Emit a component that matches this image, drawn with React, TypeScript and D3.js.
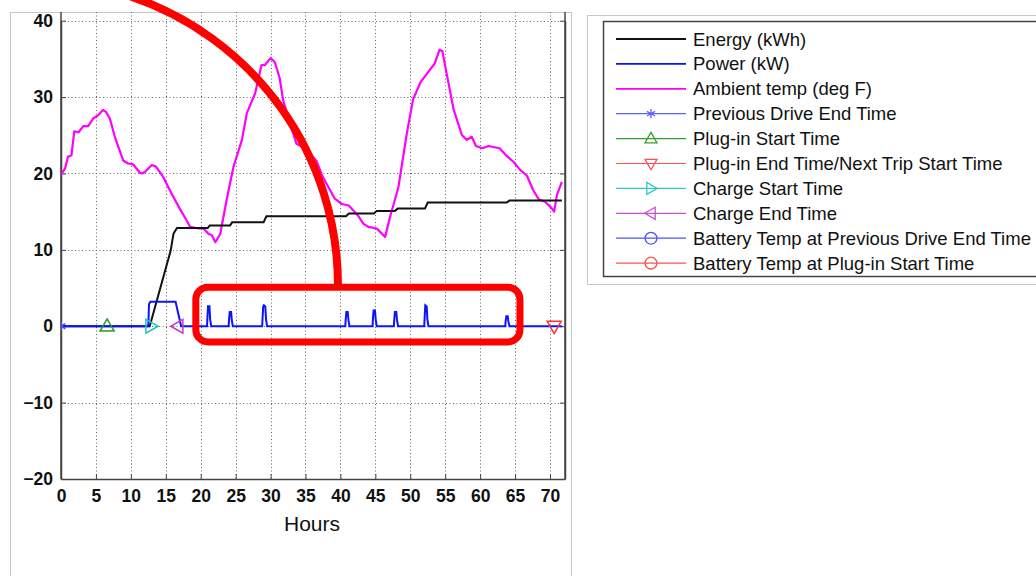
import React, { useEffect, useRef } from 'react';
import {
  axisBottom, axisLeft, axisRight, line, scaleLinear, select, symbol, symbolAsterisk, symbolCircle
} from 'd3';

// ambient temperature (deg F) vs hours
const ambientTemp: [number, number][] = [
  [0, 19.8], [0.6, 20.7], [1.0, 22.2], [1.5, 22.4], [1.9, 25.5], [2.5, 25.4], [3.2, 26.2], [3.9, 26.2],
  [4.6, 27.2], [5.3, 27.6], [6.0, 28.3], [6.4, 28.1], [7.0, 27.2], [7.7, 24.8], [8.9, 21.7], [9.6, 21.3],
  [10.3, 21.2], [11.3, 20.1], [11.6, 20.0], [12.0, 20.2], [13.0, 21.1], [13.6, 20.9], [14.6, 19.6],
  [15.8, 17.4], [17.0, 15.4], [17.7, 14.3], [18.5, 13.0], [19.7, 12.8], [20.4, 12.8], [21.1, 12.1],
  [21.6, 11.9], [22.1, 11.0], [22.8, 12.1], [23.7, 16.5], [24.7, 20.9], [25.9, 24.4], [26.6, 27.9],
  [27.8, 30.5], [28.7, 34.2], [29.2, 34.2], [30.0, 35.1], [30.6, 34.6], [31.3, 32.5], [31.8, 29.6],
  [32.8, 26.5], [33.7, 23.9], [35.0, 23.3], [36.6, 21.6], [37.3, 19.9], [38.0, 18.7], [39.2, 16.7],
  [40.2, 16.0], [41.2, 15.8], [42.5, 14.5], [43.3, 13.4], [44.0, 13.0], [45.2, 12.8], [46.4, 11.7],
  [47.1, 14.3], [48.3, 18.2], [49.5, 25.2], [50.4, 29.7], [51.5, 32.0], [52.5, 33.2], [53.5, 34.4],
  [54.2, 36.2], [54.6, 36.0], [55.2, 33.1], [56.2, 28.4], [57.4, 25.0], [58.1, 24.4], [58.8, 24.8],
  [59.4, 23.6], [60.3, 23.3], [61.2, 23.6], [62.8, 23.3], [63.8, 22.3], [64.8, 21.5], [65.7, 20.5],
  [66.7, 19.7], [67.6, 17.8], [68.4, 16.6], [69.3, 16.3], [70.2, 15.5], [70.6, 15.0], [71.0, 17.2],
  [71.7, 18.9]
];

// cumulative energy (kWh)
const energy: [number, number][] = [
  [0, 0], [12.7, 0], [15.7, 9.9], [16.1, 12.1], [16.6, 12.85], [21.0, 12.85], [21.3, 13.2], [24.2, 13.2],
  [24.5, 13.6], [29.0, 13.6], [29.4, 14.4], [40.8, 14.4], [41.2, 14.75], [44.8, 14.75], [45.2, 15.1],
  [47.8, 15.1], [48.2, 15.4], [52.1, 15.4], [52.5, 16.2], [63.8, 16.2], [64.2, 16.45], [71.7, 16.45]
];

// power (kW)
const power: [number, number][] = [
  [0, 0], [12.5, 0], [12.6, 2.9], [12.8, 3.2], [16.4, 3.2], [16.9, 1.2], [17.2, 0],
  [20.9, 0], [20.95, 0.9], [21.05, 2.6], [21.25, 2.6], [21.35, 0.9], [21.5, 0],
  [24.0, 0], [24.05, 0.8], [24.15, 1.85], [24.35, 1.85], [24.45, 0.8], [24.6, 0],
  [28.8, 0], [28.85, 1.0], [28.95, 2.6], [29.05, 2.75], [29.25, 2.6], [29.35, 0.9], [29.5, 0],
  [40.7, 0], [40.75, 0.8], [40.85, 1.85], [41.05, 1.85], [41.15, 0.8], [41.3, 0],
  [44.6, 0], [44.65, 0.9], [44.75, 2.05], [44.95, 2.05], [45.05, 0.9], [45.2, 0],
  [47.65, 0], [47.7, 0.8], [47.8, 1.85], [48.0, 1.85], [48.1, 0.8], [48.25, 0],
  [52.0, 0], [52.05, 1.0], [52.15, 2.75], [52.35, 2.6], [52.45, 0.9], [52.6, 0],
  [63.6, 0], [63.65, 0.6], [63.75, 1.3], [63.95, 1.3], [64.05, 0.6], [64.2, 0],
  [71.7, 0]
];

// event markers [hour, value]
const prevDriveEnd: [number, number] = [0, 0];
const plugInStart: [number, number] = [6.6, 0];
const plugInEnd: [number, number] = [70.6, 0];
const chargeStart: [number, number] = [12.85, 0];
const chargeEnd: [number, number] = [16.75, 0];

const xTicks = [0, 5, 10, 15, 20, 25, 30, 35, 40, 45, 50, 55, 60, 65, 70];
const yTicks = [-20, -10, 0, 10, 20, 30, 40];

const legendLabels = [
  'Energy (kWh)', 'Power (kW)', 'Ambient temp (deg F)', 'Previous Drive End Time', 'Plug-in Start Time',
  'Plug-in End Time/Next Trip Start Time', 'Charge Start Time', 'Charge End Time',
  'Battery Temp at Previous Drive End Time', 'Battery Temp at Plug-in Start Time'
];

// red callout drawn over the chart, ends in data units
const calloutArcStart: [number, number] = [9.9, 43.2];
const calloutArcEnd: [number, number] = [39.65, 5.3];
const calloutBox = { x0: 19.3, x1: 65.7, y0: -2.05, y1: 5.1 };

const FONT = 'Liberation Sans, Arial, sans-serif';

// triangle markers pointing in a direction
const tri = (dir: string, s: number) => {
  const h = s * 0.87;
  if (dir === 'up') return `M0,${-h * 0.6}L${s / 2},${h * 0.4}L${-s / 2},${h * 0.4}Z`;
  if (dir === 'down') return `M0,${h * 0.6}L${s / 2},${-h * 0.4}L${-s / 2},${-h * 0.4}Z`;
  if (dir === 'right') return `M${h * 0.6},0L${-h * 0.4},${s / 2}L${-h * 0.4},${-s / 2}Z`;
  return `M${-h * 0.6},0L${h * 0.4},${s / 2}L${h * 0.4},${-s / 2}Z`;
};

export default function App() {
  const svgRef = useRef<SVGSVGElement>(null);

  const margin = { left: 61, right: 565, top: 12, bottom: 479 };
  const x = scaleLinear().domain([0, 72.15]).range([margin.left, margin.right]);
  const y = scaleLinear().domain([-20, 40]).range([margin.bottom, 20.7]);

  useEffect(() => {
    const svg = select(svgRef.current);
    svg.selectAll('*').remove();

    // figure panel
    svg.append('rect').attr('x', 10.5).attr('y', 12.5).attr('width', 561).attr('height', 580)
      .attr('fill', '#fff').attr('stroke', '#c8c8c8');

    svg.append('defs').append('clipPath').attr('id', 'plotclip').append('rect')
      .attr('x', margin.left).attr('y', margin.top)
      .attr('width', margin.right - margin.left).attr('height', margin.bottom - margin.top);

    // grid
    const grid = svg.append('g').attr('stroke', '#666').attr('stroke-width', 1)
      .attr('stroke-dasharray', '1,2.5');
    grid.selectAll('.gx').data(xTicks.filter((d) => d > 0)).join('line')
      .attr('x1', (d) => Math.round(x(d)) + 0.5).attr('x2', (d) => Math.round(x(d)) + 0.5)
      .attr('y1', margin.top).attr('y2', margin.bottom);
    grid.selectAll('.gy').data(yTicks.filter((d) => d > -20)).join('line')
      .attr('y1', (d) => Math.round(y(d)) + 0.5).attr('y2', (d) => Math.round(y(d)) + 0.5)
      .attr('x1', margin.left).attr('x2', margin.right);

    // axes
    const ax = svg.append('g').attr('font-family', FONT).attr('font-weight', 'bold');
    ax.append('g').attr('transform', `translate(${margin.left},0)`)
      .call(axisLeft(y).tickValues(yTicks).tickSizeInner(-5).tickSizeOuter(0).tickPadding(8));
    ax.append('g').attr('transform', `translate(0,${margin.bottom})`)
      .call(axisBottom(x).tickValues(xTicks).tickSizeInner(-5).tickSizeOuter(0).tickPadding(11));
    ax.append('g').attr('transform', `translate(${margin.right},0)`)
      .call(axisRight(y).tickValues(yTicks).tickSizeInner(-5).tickSizeOuter(0).tickFormat(() => ''));
    ax.selectAll('.domain').attr('stroke', '#444').attr('stroke-width', 1.5);
    ax.selectAll('.tick line').attr('stroke', '#444');
    ax.selectAll('.tick text').attr('font-size', 17.5).attr('fill', '#111');
    // left and right axis lines span the clipped top too
    ax.append('line').attr('x1', margin.left).attr('x2', margin.left).attr('y1', margin.top).attr('y2', margin.bottom)
      .attr('stroke', '#444').attr('stroke-width', 1.5);
    ax.append('line').attr('x1', margin.right).attr('x2', margin.right).attr('y1', margin.top).attr('y2', margin.bottom)
      .attr('stroke', '#444').attr('stroke-width', 1.5);

    svg.append('text').attr('x', 312).attr('y', 531).attr('text-anchor', 'middle')
      .attr('font-family', FONT).attr('font-size', 21).attr('fill', '#111').text('Hours');

    // series
    const plot = svg.append('g').attr('clip-path', 'url(#plotclip)');
    const path = line<[number, number]>().x((d) => x(d[0])).y((d) => y(d[1]));
    plot.append('path').attr('d', path(ambientTemp)).attr('fill', 'none')
      .attr('stroke', '#ff00ff').attr('stroke-width', 2.2).attr('stroke-linejoin', 'round');
    plot.append('path').attr('d', path(energy)).attr('fill', 'none')
      .attr('stroke', '#111').attr('stroke-width', 2);
    plot.append('path').attr('d', path(power)).attr('fill', 'none')
      .attr('stroke', '#0a14ff').attr('stroke-width', 2);

    // event markers
    const marks = [
      { p: prevDriveEnd, d: symbol(symbolAsterisk, 70)(), c: '#4a4aff' },
      { p: plugInStart, d: tri('up', 14), c: '#2a9a2a' },
      { p: plugInEnd, d: tri('down', 14), c: '#ff3030' },
      { p: chargeStart, d: tri('right', 14), c: '#22c4c4' },
      { p: chargeEnd, d: tri('left', 14), c: '#c040c8' }
    ];
    plot.selectAll('.mk').data(marks).join('path')
      .attr('transform', (m) => `translate(${x(m.p[0])},${y(m.p[1])})`)
      .attr('d', (m) => m.d).attr('fill', 'none').attr('stroke', (m) => m.c).attr('stroke-width', 1.5);

    // legend
    svg.append('rect').attr('x', 587.5).attr('y', 15.5).attr('width', 460).attr('height', 269)
      .attr('fill', '#fff').attr('stroke', '#c8c8c8');
    svg.append('rect').attr('x', 603.5).attr('y', 21.5).attr('width', 440).attr('height', 255)
      .attr('fill', '#fff').attr('stroke', '#444').attr('stroke-width', 1.5);
    const legendStyle = [
      { c: '#111', m: '', w: 1.8 },
      { c: '#1010ff', m: '', w: 1.8 },
      { c: '#ff00ff', m: '', w: 1.8 },
      { c: '#6060ff', m: symbol(symbolAsterisk, 60)(), w: 1.2 },
      { c: '#30a030', m: tri('up', 12), w: 1.2 },
      { c: '#ff5050', m: tri('down', 12), w: 1.2 },
      { c: '#30c8c8', m: tri('right', 12), w: 1.2 },
      { c: '#c050d0', m: tri('left', 12), w: 1.2 },
      { c: '#5050ff', m: symbol(symbolCircle, 110)(), w: 1.2 },
      { c: '#ff5050', m: symbol(symbolCircle, 110)(), w: 1.2 }
    ];
    const lg = svg.append('g').selectAll('g').data(legendLabels).join('g')
      .attr('transform', (_, i) => `translate(0,${39 + i * 24.9})`);
    lg.append('line').attr('x1', 616).attr('x2', 686).attr('y1', 0).attr('y2', 0)
      .attr('stroke', (_, i) => legendStyle[i].c).attr('stroke-width', (_, i) => legendStyle[i].w);
    lg.append('path').attr('transform', 'translate(651,0)').attr('d', (_, i) => legendStyle[i].m)
      .attr('fill', 'none').attr('stroke', (_, i) => legendStyle[i].c).attr('stroke-width', 1.3);
    lg.append('text').attr('x', 693).attr('y', 6.5).attr('font-family', FONT).attr('font-size', 18.5)
      .attr('fill', '#111').text((d) => d);

    // red callout: circular arc into a rounded box
    const sx = x(calloutArcStart[0]), sy = y(calloutArcStart[1]);
    const ex = x(calloutArcEnd[0]), ey = y(calloutArcEnd[1]);
    svg.append('path').attr('d', `M${sx},${sy}A305,305 0 0 1 ${ex},${ey}`).attr('fill', 'none')
      .attr('stroke', '#ff0000').attr('stroke-width', 8);
    svg.append('rect')
      .attr('x', x(calloutBox.x0)).attr('y', y(calloutBox.y1))
      .attr('width', x(calloutBox.x1) - x(calloutBox.x0)).attr('height', y(calloutBox.y0) - y(calloutBox.y1))
      .attr('rx', 12).attr('fill', 'none').attr('stroke', '#ff0000').attr('stroke-width', 7);
  }, []);

  return (
    <div style={{ position: 'absolute', left: 0, top: 0, width: 1036, height: 576, overflow: 'hidden', background: '#fff' }}>
      <svg ref={svgRef} width={1036} height={576} />
    </div>
  );
}
